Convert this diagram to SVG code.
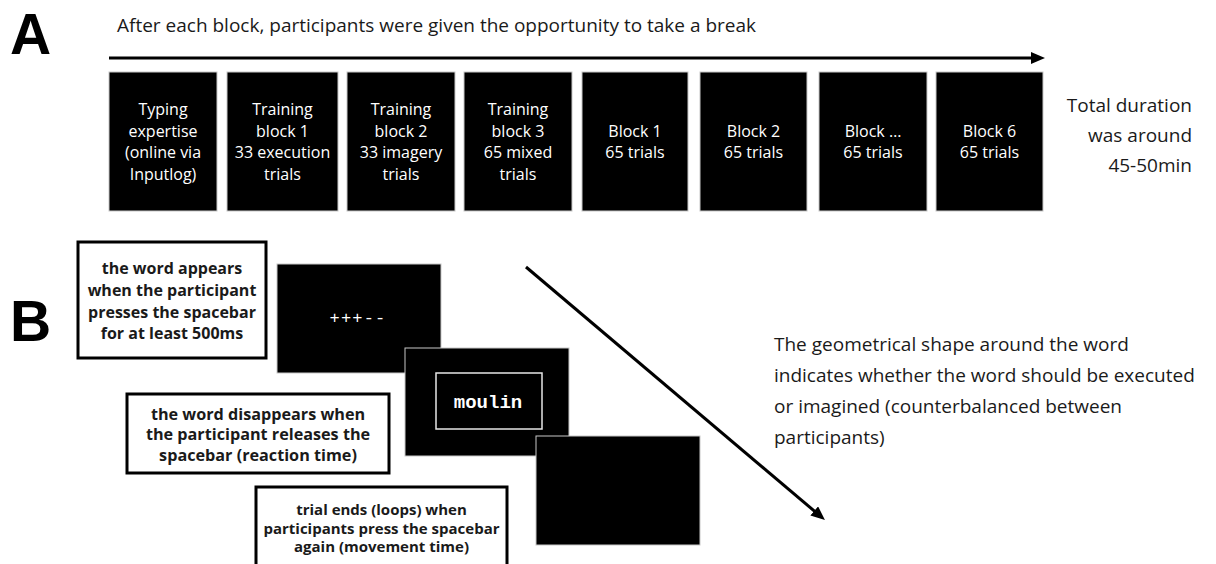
<svg xmlns="http://www.w3.org/2000/svg" width="1216" height="564" viewBox="0 0 1216 564">
<style>
.lbl{font-family:"Liberation Sans",Arial,sans-serif;font-weight:bold;font-size:57px;fill:#000}
.blk{fill:#000;stroke:#c8c8c8;stroke-width:1}
.bt{font-family:"Open Sans","Noto Sans",sans-serif;font-size:16px;fill:#fff;text-anchor:middle}
.note{font-family:"Open Sans","Noto Sans",sans-serif;font-size:19px;fill:#1a1a1a}
.tb{fill:#fff;stroke:#000;stroke-width:3}
.tbt{font-family:"Open Sans","Noto Sans",sans-serif;font-weight:bold;fill:#1a1a1a;text-anchor:middle}
.scr{fill:#000;stroke:#c8c8c8;stroke-width:1}
.conn{stroke:#000;stroke-width:3;fill:none}
</style>
<defs>
<marker id="ah" viewBox="0 0 14 12" markerWidth="14" markerHeight="12" refX="1" refY="6" orient="auto" markerUnits="userSpaceOnUse">
<path d="M0,0 L14,6 L0,12 z" fill="#000"/>
</marker>
</defs>
<rect width="1216" height="564" fill="#fff"/>
<text class="lbl" x="10" y="54">A</text>
<text class="lbl" x="10" y="341">B</text>
<text class="note" x="117" y="32">After each block, participants were given the opportunity to take a break</text>
<g id="connectors">
<line class="conn" x1="109" y1="58" x2="1032" y2="58" marker-end="url(#ah)"/>
<line class="conn" x1="526" y1="267" x2="815" y2="511.6" marker-end="url(#ah)"/>
</g>
<g id="block-typing"><rect class="blk" x="109" y="72" width="108" height="139"/>
<text class="bt" x="163" y="115">Typing</text><text class="bt" x="163" y="137">expertise</text><text class="bt" x="163" y="158">(online via</text><text class="bt" x="163" y="180">Inputlog)</text></g>
<g id="block-training1"><rect class="blk" x="227" y="72" width="111" height="139"/>
<text class="bt" x="282.5" y="115">Training</text><text class="bt" x="282.5" y="137">block 1</text><text class="bt" x="282.5" y="158">33 execution</text><text class="bt" x="282.5" y="180">trials</text></g>
<g id="block-training2"><rect class="blk" x="347" y="72" width="108" height="139"/>
<text class="bt" x="401" y="115">Training</text><text class="bt" x="401" y="137">block 2</text><text class="bt" x="401" y="158">33 imagery</text><text class="bt" x="401" y="180">trials</text></g>
<g id="block-training3"><rect class="blk" x="464" y="72" width="108" height="139"/>
<text class="bt" x="518" y="115">Training</text><text class="bt" x="518" y="137">block 3</text><text class="bt" x="518" y="158">65 mixed</text><text class="bt" x="518" y="180">trials</text></g>
<g id="block-1"><rect class="blk" x="582" y="72" width="106" height="139"/>
<text class="bt" x="635" y="137">Block 1</text><text class="bt" x="635" y="158">65 trials</text></g>
<g id="block-2"><rect class="blk" x="700" y="72" width="107" height="139"/>
<text class="bt" x="753.5" y="137">Block 2</text><text class="bt" x="753.5" y="158">65 trials</text></g>
<g id="block-n"><rect class="blk" x="819" y="72" width="108" height="139"/>
<text class="bt" x="873" y="137">Block …</text><text class="bt" x="873" y="158">65 trials</text></g>
<g id="block-6"><rect class="blk" x="936" y="72" width="107" height="139"/>
<text class="bt" x="989.5" y="137">Block 6</text><text class="bt" x="989.5" y="158">65 trials</text></g>
<g id="total-duration">
<text class="note" x="1192" y="112" text-anchor="end">Total duration</text>
<text class="note" x="1192" y="142" text-anchor="end">was around</text>
<text class="note" x="1192" y="172" text-anchor="end">45-50min</text>
</g>
<g id="screen-1"><rect class="scr" x="277" y="264" width="164" height="109"/>
<text x="358" y="323" fill="#fff" font-family="Liberation Mono, monospace" font-size="17" letter-spacing="1.2" text-anchor="middle">+++--</text></g>
<g id="screen-2"><rect class="scr" x="405" y="348" width="164" height="108"/>
<rect x="436" y="373" width="106" height="56" fill="none" stroke="#e6e6e6" stroke-width="1.5"/>
<text x="488" y="408" fill="#fff" font-family="Liberation Mono, monospace" font-weight="bold" font-size="19" text-anchor="middle">moulin</text></g>
<g id="screen-3"><rect class="scr" x="536" y="436" width="164" height="109"/></g>
<g id="note-appears"><rect class="tb" x="78" y="242" width="188" height="116"/>
<text class="tbt" font-size="16" x="172" y="274">the word appears</text>
<text class="tbt" font-size="16" x="172" y="296">when the participant</text>
<text class="tbt" font-size="16" x="172" y="318">presses the spacebar</text>
<text class="tbt" font-size="16" x="172" y="339">for at least 500ms</text></g>
<g id="note-disappears"><rect class="tb" x="127" y="394" width="262" height="79"/>
<text class="tbt" font-size="16.2" x="258" y="419.5">the word disappears when</text>
<text class="tbt" font-size="16.2" x="258" y="440">the participant releases the</text>
<text class="tbt" font-size="16.2" x="258" y="460.5">spacebar (reaction time)</text></g>
<g id="note-ends"><rect class="tb" x="256" y="487" width="251" height="90"/>
<text class="tbt" font-size="15" x="381.5" y="515">trial ends (loops) when</text>
<text class="tbt" font-size="15" x="381.5" y="534">participants press the spacebar</text>
<text class="tbt" font-size="15" x="381.5" y="552">again (movement time)</text></g>
<g id="shape-note">
<text class="note" x="774" y="351">The geometrical shape around the word</text>
<text class="note" x="774" y="382">indicates whether the word should be executed</text>
<text class="note" x="774" y="413">or imagined (counterbalanced between</text>
<text class="note" x="774" y="444">participants)</text>
</g>
</svg>
